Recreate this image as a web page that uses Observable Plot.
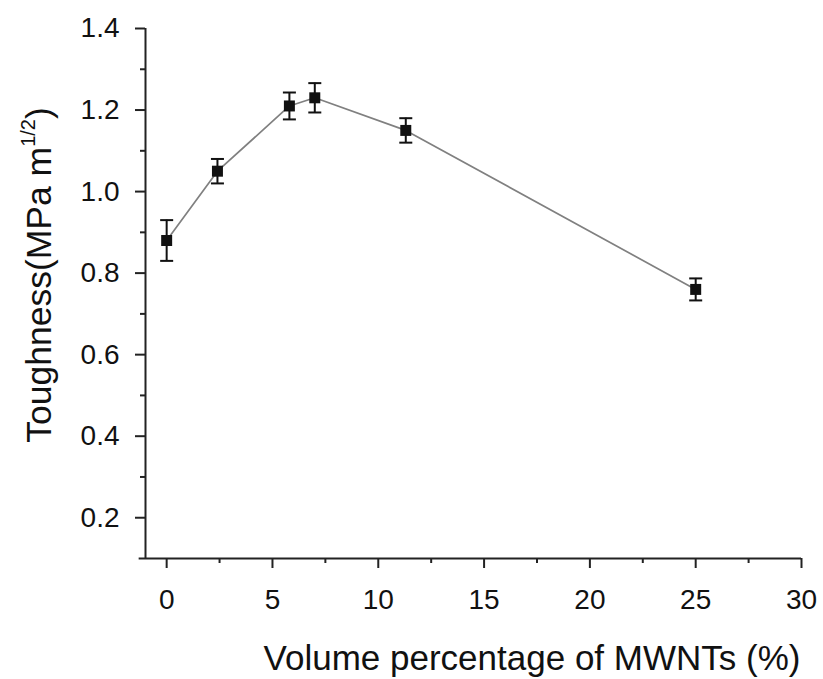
<!DOCTYPE html>
<html><head><meta charset="utf-8">
<script src="https://cdn.jsdelivr.net/npm/d3@7"></script>
<script src="https://cdn.jsdelivr.net/npm/@observablehq/plot@0.6"></script>
<style>body{margin:0;background:#fff;}</style>
</head><body><div id="chart"></div>
<script>
const volume = [0, 2.4, 5.8, 7, 11.3, 25];
const toughness = [0.88, 1.05, 1.21, 1.23, 1.15, 0.76];
const errors = [0.05, 0.03, 0.033, 0.036, 0.03, 0.027];
const xTicks = [0, 5, 10, 15, 20, 25, 30];
const xMinor = [2.5, 7.5, 12.5, 17.5, 22.5, 27.5];
const yTicks = [0.2, 0.4, 0.6, 0.8, 1.0, 1.2, 1.4];
const yMinor = [0.3, 0.5, 0.7, 0.9, 1.1, 1.3];
const xLabel = "Volume percentage of MWNTs (%)";
const yLabelMain = "Toughness(MPa m";
const yLabelSup = "1/2";
const yLabelEnd = ")";

const data = volume.map((x, i) => ({x, y: toughness[i], lo: toughness[i] - errors[i], hi: toughness[i] + errors[i]}));
const cap = {draw(ctx) { const r = 6.5; ctx.moveTo(-r, 0); ctx.lineTo(r, 0); }};
const font = "'Liberation Sans', Arial, sans-serif";

const plot = Plot.plot({
  width: 823, height: 679,
  marginLeft: 145, marginRight: 22, marginTop: 28, marginBottom: 121,
  style: {fontFamily: font, background: "#fff", color: "#111", fontSize: "28px"},
  x: {domain: [-1, 30]},
  y: {domain: [0.1, 1.4]},
  marks: [
    Plot.ruleX([-1], {stroke: "#222", strokeWidth: 2}),
    Plot.ruleY([0.1], {x1: -1.3, x2: 30, stroke: "#222", strokeWidth: 2}),
    Plot.axisX(xTicks, {tickSize: 10, tickPadding: 21, label: null, fontSize: 28, strokeWidth: 2, stroke: "#222", fill: "#111"}),
    Plot.axisX(xMinor, {tickSize: 5, text: null, label: null, strokeWidth: 2, stroke: "#222"}),
    Plot.axisY(yTicks, {tickSize: 10, tickPadding: 16, label: null, fontSize: 28, strokeWidth: 2, stroke: "#222", fill: "#111", tickFormat: d3.format(".1f")}),
    Plot.axisY(yMinor, {tickSize: 5, text: null, label: null, strokeWidth: 2, stroke: "#222"}),
    Plot.line(data, {x: "x", y: "y", stroke: "#808080", strokeWidth: 1.7}),
    Plot.ruleX(data, {x: "x", y1: "lo", y2: "hi", stroke: "#111", strokeWidth: 2}),
    Plot.dot(data, {x: "x", y: "lo", symbol: cap, stroke: "#111", strokeWidth: 2, fill: "none"}),
    Plot.dot(data, {x: "x", y: "hi", symbol: cap, stroke: "#111", strokeWidth: 2, fill: "none"}),
    Plot.dot(data, {x: "x", y: "y", symbol: "square", r: 6.2, fill: "#111", stroke: "none"})
  ]
});

const svg = d3.select(plot);
svg.selectAll('g[aria-label="x-axis tick label"], g[aria-label="y-axis tick label"]')
  .attr("font-size", 28).style("font-size", "28px");
svg.append("text")
  .attr("x", 532).attr("y", 670)
  .attr("text-anchor", "middle")
  .style("font-family", font).style("font-size", "35px").style("fill", "#111")
  .text(xLabel);
const yl = svg.append("text")
  .attr("transform", "translate(51,275) rotate(-90)")
  .attr("text-anchor", "middle")
  .style("font-family", font).style("font-size", "35.5px").style("fill", "#111");
yl.append("tspan").text(yLabelMain);
yl.append("tspan").attr("dy", -16).style("font-size", "20px").text(yLabelSup);
yl.append("tspan").attr("dy", 16).text(yLabelEnd);

document.getElementById("chart").appendChild(plot);
</script>
</body></html>
